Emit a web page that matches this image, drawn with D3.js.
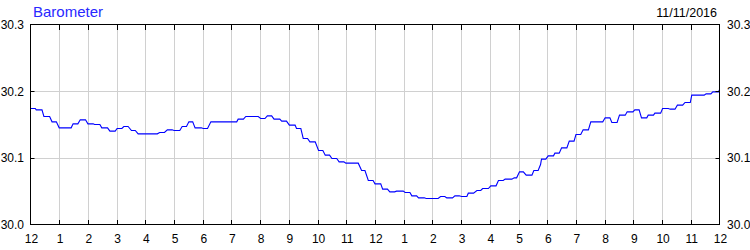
<!DOCTYPE html>
<html>
<head>
<meta charset="utf-8">
<script src="https://cdn.jsdelivr.net/npm/d3@7"></script>
<style>
  body { margin: 0; background: #fff; }
  svg { display: block; font-family: Arial, "Liberation Sans", sans-serif; }
</style>
</head>
<body>
<div id="chart"></div>
<script>
// Barometer readings for 11/11/2016 (minutes after midnight, inHg)
const minutes = [
  0, 10, 12, 24, 28, 40, 45, 54, 60, 85, 89, 99, 104, 115, 120, 131, 134, 145,
  149, 161, 166, 177, 181, 191, 195, 204, 211, 219, 225, 265, 270, 280, 286, 296,
  300, 312, 317, 326, 331, 339, 344, 357, 361, 370, 377, 431, 434, 445, 450, 476,
  481, 490, 495, 504, 509, 521, 525, 535, 541, 553, 556, 565, 570, 579, 584, 595,
  602, 611, 616, 625, 630, 640, 645, 655, 659, 685, 692, 699, 706, 716, 720, 732,
  736, 746, 751, 761, 765, 779, 783, 793, 797, 807, 811, 823, 827, 852, 857, 866,
  870, 882, 887, 896, 901, 912, 915, 926, 933, 941, 945, 957, 962, 973, 978, 988,
  992, 1006, 1011, 1016, 1022, 1030, 1036, 1048, 1052, 1061, 1066, 1068, 1077,
  1082, 1093, 1096, 1105, 1110, 1121, 1126, 1136, 1140, 1150, 1155, 1166, 1171, 1196,
  1201, 1211, 1215, 1226, 1231, 1243, 1247, 1259, 1263, 1272, 1277, 1288, 1291, 1302,
  1305, 1317, 1321, 1333, 1337, 1347, 1352, 1363, 1368, 1379, 1382, 1408, 1412, 1422,
  1426, 1438, 1440
];
const pressure = [
  30.174, 30.174, 30.172, 30.172, 30.162, 30.162, 30.154, 30.154, 30.145, 30.145,
  30.151, 30.151, 30.157, 30.157, 30.151, 30.151, 30.150, 30.150, 30.145, 30.145,
  30.140, 30.140, 30.144, 30.144, 30.147, 30.147, 30.141, 30.141, 30.136, 30.136,
  30.138, 30.138, 30.142, 30.142, 30.141, 30.141, 30.147, 30.147, 30.154, 30.154,
  30.145, 30.145, 30.144, 30.144, 30.154, 30.154, 30.158, 30.158, 30.162, 30.162,
  30.159, 30.159, 30.163, 30.163, 30.158, 30.158, 30.155, 30.155, 30.149, 30.149,
  30.144, 30.144, 30.129, 30.129, 30.124, 30.124, 30.111, 30.111, 30.104, 30.104,
  30.099, 30.099, 30.094, 30.094, 30.092, 30.092, 30.081, 30.081, 30.066, 30.066,
  30.061, 30.061, 30.053, 30.053, 30.049, 30.049, 30.050, 30.050, 30.048, 30.048,
  30.043, 30.043, 30.040, 30.040, 30.039, 30.039, 30.042, 30.042, 30.040, 30.040,
  30.043, 30.043, 30.042, 30.042, 30.047, 30.047, 30.051, 30.051, 30.054, 30.054,
  30.058, 30.058, 30.066, 30.066, 30.068, 30.068, 30.070, 30.070, 30.079, 30.079,
  30.074, 30.074, 30.081, 30.081, 30.090, 30.098, 30.098,
  30.103, 30.103, 30.107, 30.107, 30.115, 30.115, 30.125, 30.125, 30.135, 30.135,
  30.142, 30.142, 30.154, 30.154, 30.160, 30.160, 30.153, 30.153, 30.164, 30.164,
  30.169, 30.169, 30.172, 30.172, 30.160, 30.160, 30.164, 30.164, 30.167, 30.167,
  30.174, 30.174, 30.173, 30.173, 30.179, 30.179, 30.183, 30.183, 30.194, 30.194,
  30.196, 30.196, 30.199, 30.199, 30.202
];
const hourLabels = ['12', '1', '2', '3', '4', '5', '6', '7', '8', '9', '10', '11',
                    '12', '1', '2', '3', '4', '5', '6', '7', '8', '9', '10', '11', '12'];
const yTicks = [30.0, 30.1, 30.2, 30.3];
const title = 'Barometer';
const dateLabel = '11/11/2016';

const width = 750, height = 250;
const plotLeft = 30.5, plotRight = 719.5, plotTop = 25, plotBottom = 225;

const svg = d3.select('#chart').append('svg')
  .attr('width', width)
  .attr('height', height);

const x = d3.scaleLinear().domain([0, 1440]).range([plotLeft, plotRight]);
const y = d3.scaleLinear().domain([30.0, 30.3]).range([plotBottom - 0.5, plotTop - 0.5]);

const hours = d3.range(hourLabels.length);

// grid
svg.append('g').selectAll('line')
  .data(hours.slice(1, -1))
  .join('line')
  .attr('x1', d => Math.round(x(d * 60)) + 0.5)
  .attr('x2', d => Math.round(x(d * 60)) + 0.5)
  .attr('y1', plotTop).attr('y2', plotBottom)
  .attr('stroke', '#d0d0d0');
svg.append('g').selectAll('line')
  .data(yTicks.slice(1, -1))
  .join('line')
  .attr('x1', plotLeft).attr('x2', plotRight)
  .attr('y1', d => Math.round(y(d)) + 0.5)
  .attr('y2', d => Math.round(y(d)) + 0.5)
  .attr('stroke', '#d0d0d0');

// pressure line
const line = d3.line()
  .x((d, i) => x(minutes[i]))
  .y(d => y(d));
svg.append('path')
  .datum(pressure)
  .attr('d', line)
  .attr('fill', 'none')
  .attr('stroke', '#0000ff')
  .attr('stroke-width', 1.1);

// frame
svg.append('rect')
  .attr('x', plotLeft).attr('y', plotTop - 0.5)
  .attr('width', plotRight - plotLeft).attr('height', plotBottom - plotTop)
  .attr('fill', 'none')
  .attr('stroke', '#000');

// inward ticks on top and bottom
const tk = svg.append('g').attr('stroke', '#000');
hours.slice(1, -1).forEach(d => {
  const xx = Math.round(x(d * 60)) + 0.5;
  tk.append('line').attr('x1', xx).attr('x2', xx).attr('y1', plotTop).attr('y2', plotTop + 5);
  tk.append('line').attr('x1', xx).attr('x2', xx).attr('y1', plotBottom - 5).attr('y2', plotBottom);
});
yTicks.slice(1, -1).forEach(d => {
  const yy = Math.round(y(d)) + 0.5;
  tk.append('line').attr('x1', plotLeft).attr('x2', plotLeft + 4).attr('y1', yy).attr('y2', yy);
  tk.append('line').attr('x1', plotRight - 4).attr('x2', plotRight).attr('y1', yy).attr('y2', yy);
});

// x labels
svg.append('g').selectAll('text')
  .data(hours)
  .join('text')
  .attr('x', d => x(d * 60) + 1)
  .attr('y', 243)
  .attr('text-anchor', 'middle')
  .attr('font-size', 12)
  .attr('fill', '#000')
  .text(d => hourLabels[d]);

// y labels, both sides
svg.append('g').selectAll('text')
  .data(yTicks)
  .join('text')
  .attr('x', 24)
  .attr('y', d => y(d) + 4.5)
  .attr('text-anchor', 'end')
  .attr('font-size', 12)
  .text(d => d.toFixed(1));
svg.append('g').selectAll('text')
  .data(yTicks)
  .join('text')
  .attr('x', 727)
  .attr('y', d => y(d) + 4.5)
  .attr('text-anchor', 'start')
  .attr('font-size', 12)
  .text(d => d.toFixed(1));

// title and date
svg.append('text')
  .attr('x', 33)
  .attr('y', 17)
  .attr('font-size', 15)
  .attr('fill', '#2828ff')
  .text(title);
svg.append('text')
  .attr('x', 717)
  .attr('y', 17)
  .attr('text-anchor', 'end')
  .attr('font-size', 12.5)
  .text(dateLabel);
</script>
</body>
</html>
